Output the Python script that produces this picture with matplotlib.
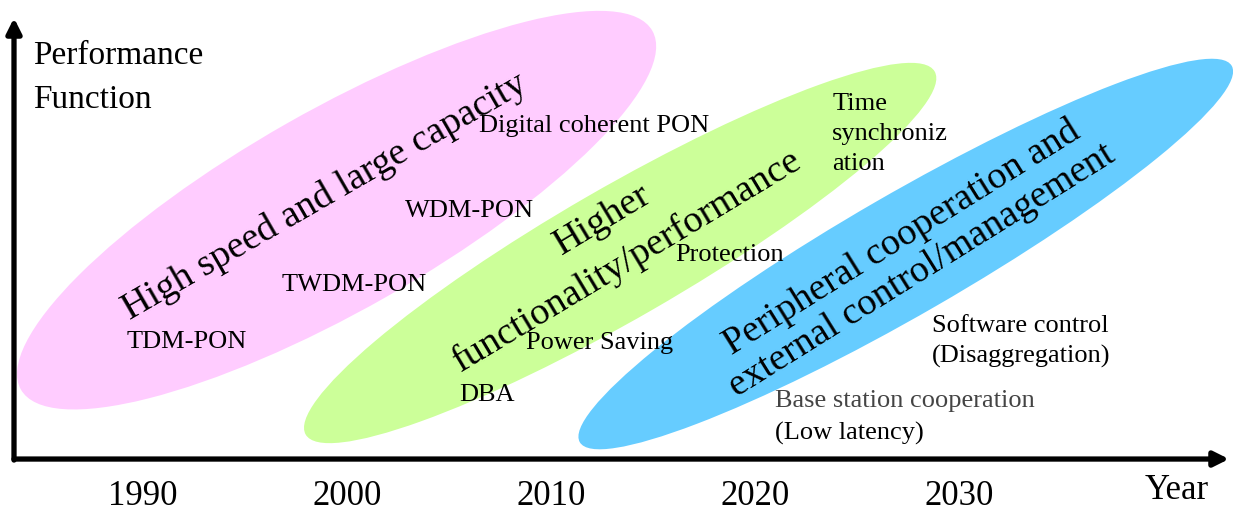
import matplotlib
matplotlib.use("Agg")
import matplotlib.pyplot as plt
from matplotlib.patches import Ellipse, FancyArrowPatch

plt.rcParams['font.family'] = ['Liberation Serif', 'DejaVu Serif']

# year axis labels
years = [1990, 2000, 2010, 2020, 2030]
year_labels = ['1990', '2000', '2010', '2020', '2030']

# development phases: (center year, center level, span, thickness, tilt)
phase_names = ['High speed and large capacity',
               'Higher\nfunctionality/performance',
               'Peripheral cooperation and\nexternal control/management']
phase_center_year = [1999.5, 2013.4, 2027.4]
phase_center_level = [12.1, 10.0, 9.95]
phase_span = [35.6, 35.6, 36.9]
phase_thickness = [9.8, 6.4, 5.9]
phase_tilt = [29.6, 30.0, 30.0]
phase_colors = ['#FFCCFF', '#CCFF99', '#66CCFF']

# phase titles: (year, level, rotation)
title_year = [1998.9, 2013.15, 2027.7]
title_level = [12.75, 10.6, 9.95]
title_rot = [30, 31, 32]
title_spacing = [1.2, 1.5, 1.15]

# technologies placed along the time line: (text, year, level)
techs = ['TDM-PON', 'TWDM-PON', 'WDM-PON', 'Digital coherent PON',
         'DBA', 'Power Saving', 'Protection', 'Time\nsynchroniz\nation',
         'Software control\n(Disaggregation)']
tech_year = [1989.2, 1996.8, 2002.85, 2006.5,
             2005.5, 2008.8, 2016.1, 2023.8, 2028.7]
tech_level = [5.64, 8.43, 12.06, 16.23,
              3.04, 5.59, 9.9, 15.83, 5.65]

fig = plt.figure(figsize=(12.33, 5.12), dpi=100)
ax = fig.add_axes([0, 0, 1, 1])
ax.set_xlim(1983.0, 1983.0 + 1233 / 20.4)
ax.set_ylim(-55 / 20.4, 457 / 20.4)
ax.set_aspect('equal')
ax.axis('off')

for i in range(len(phase_names)):
    ax.add_patch(Ellipse((phase_center_year[i], phase_center_level[i]),
                         phase_span[i], phase_thickness[i], angle=phase_tilt[i],
                         facecolor=phase_colors[i], edgecolor='none', zorder=1))
    ax.text(title_year[i], title_level[i], phase_names[i], fontsize=27.5,
            rotation=title_rot[i], rotation_mode='anchor', ha='center', va='center',
            multialignment='center', linespacing=title_spacing[i], zorder=3)

for name, yr, lv in zip(techs, tech_year, tech_level):
    ax.text(yr, lv, name, fontsize=19, ha='left', va='center',
            linespacing=1.45, zorder=3)

ax.text(2021.0, 2.75, 'Base station cooperation', fontsize=19, color='#444444',
        ha='left', va='center', zorder=3)
ax.text(2021.0, 1.13, '(Low latency)', fontsize=19, ha='left', va='center', zorder=3)

# axes with arrow heads
ax_x0 = 1983.0 + 14 / 20.4
ax.add_patch(FancyArrowPatch((ax_x0, -0.1), (1983.0 + 1229 / 20.4, -0.1),
                             arrowstyle='-|>', mutation_scale=22, lw=3.8,
                             color='black', shrinkA=0, shrinkB=0, zorder=4))
ax.add_patch(FancyArrowPatch((ax_x0, -0.15), (ax_x0, 439 / 20.4),
                             arrowstyle='-|>', mutation_scale=22, lw=3.8,
                             color='black', shrinkA=0, shrinkB=0, zorder=4))

for yr, lab in zip(years, year_labels):
    ax.text(yr, -1.96, lab, fontsize=25, ha='center', va='center')
ax.text(2040.7, -1.62, 'Year', fontsize=25, ha='center', va='center')
ax.text(1984.6, 18.6, 'Performance\nFunction', fontsize=24, ha='left', va='center',
        linespacing=1.6)

fig.savefig('out.png', dpi=100)
